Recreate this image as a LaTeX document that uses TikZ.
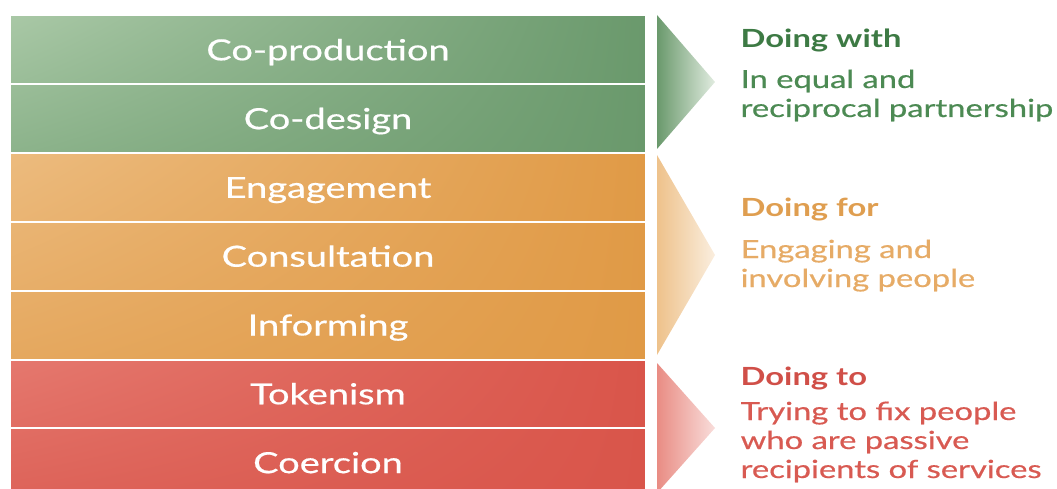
\documentclass[tikz,border=0pt]{standalone}
\usepackage{fontspec}
\setmainfont{Lato}
\newfontfamily\medfont[FakeBold=0.5]{Lato}
\usetikzlibrary{positioning,backgrounds,shadings}

\definecolor{withlight}{HTML}{A9C8A6}
\definecolor{withmid}{HTML}{8CB38B}
\definecolor{withdark}{HTML}{6A996C}
\definecolor{forlight}{HTML}{ECBB7E}
\definecolor{formid}{HTML}{E5A85F}
\definecolor{fordark}{HTML}{E09A46}
\definecolor{tolight}{HTML}{E5786E}
\definecolor{tomid}{HTML}{DD6359}
\definecolor{todark}{HTML}{D9554A}
\definecolor{withhead}{HTML}{3D7A44}
\definecolor{withbody}{HTML}{4C8A53}
\definecolor{forhead}{HTML}{DF9E50}
\definecolor{forbody}{HTML}{E6AB66}
\definecolor{tohead}{HTML}{D04F48}
\definecolor{tobody}{HTML}{D85A52}

\tikzset{
  bar/.style={minimum width=636, minimum height=68.8, inner sep=0, outer sep=0,
    draw=white, line width=2},
  bartext/.style={anchor=base, text=white, xscale=1.31, font=\fontsize{29}{30}\medfont},
  head/.style={anchor=base west, xscale=1.31, font=\fontsize{25}{28}\selectfont\bfseries},
  body/.style={anchor=base west, xscale=1.31, font=\fontsize{25}{28}\medfont},
}

\begin{document}
\begin{tikzpicture}[x=1pt,y=1pt,yscale=-1,xscale=1]
\clip (0,0) rectangle (1057,489);

%Shape: Rectangle
\node[bar] (coprod) at (328,49.9) {};
\node[bar, below=0pt of coprod] (codesign) {};
\node[bar, below=0pt of codesign] (engage) {};
\node[bar, below=0pt of engage] (consult) {};
\node[bar, below=0pt of consult] (inform) {};
\node[bar, below=0pt of inform] (token) {};
\node[bar, below=0pt of token] (coerce) {};

\begin{scope}[on background layer]
%Shape: Rectangle
\shade[upper left=withlight, lower left=withmid, upper right=withdark, lower right=withdark] (coprod.north west) rectangle (codesign.south east);
%Shape: Rectangle
\shade[upper left=forlight, lower left=formid, upper right=fordark, lower right=fordark] (engage.north west) rectangle (inform.south east);
%Shape: Rectangle
\shade[upper left=tolight, lower left=tomid, upper right=todark, lower right=todark] (token.north west) rectangle (coerce.south east);
\end{scope}

% Text Node
\node[bartext] (coprodtxt) at ([yshift=10.4]coprod.center) {Co-production};
\node[bartext] (codesigntxt) at ([yshift=10.4]codesign.center) {Co-design};
\node[bartext] (engagetxt) at ([yshift=10.4]engage.center) {Engagement};
\node[bartext] (consulttxt) at ([yshift=10.4]consult.center) {Consultation};
\node[bartext] (informtxt) at ([yshift=10.4]inform.center) {Informing};
\node[bartext] (tokentxt) at ([yshift=10.4]token.center) {Tokenism};
\node[bartext] (coercetxt) at ([yshift=10.4]coerce.center) {Coercion};

%Shape: Triangle
\shade[left color=withdark, right color=withlight!35!white] (657,15) -- (715,82) -- (657,149) -- cycle;
%Shape: Triangle
\shade[left color=forlight!90!white, right color=forlight!25!white] (657,155) -- (715,255) -- (657,355) -- cycle;
%Shape: Triangle
\shade[left color=tolight!85!white, right color=tolight!25!white] (657,363) -- (715,428) -- (657,493) -- cycle;

% Text Node
\node[head, text=withhead] (withhd) at (736,48) {Doing with};
% Text Node
\node[body, text=withbody] (withone) at (736,88) {In equal and};
% Text Node
\node[body, text=withbody] (withtwo) at (736,117) {reciprocal partnership};
% Text Node
\node[head, text=forhead] (forhd) at (736,217) {Doing for};
% Text Node
\node[body, text=forbody] (forone) at (736,258) {Engaging and};
% Text Node
\node[body, text=forbody] (fortwo) at (736,287) {involving people};
% Text Node
\node[head, text=tohead] (tohd) at (736,385) {Doing to};
% Text Node
\node[body, text=tobody] (toone) at (736,420) {Trying to fix people};
% Text Node
\node[body, text=tobody] (totwo) at (736,449) {who are passive};
% Text Node
\node[body, text=tobody] (tothree) at (736,478) {recipients of services};

\end{tikzpicture}
\end{document}
